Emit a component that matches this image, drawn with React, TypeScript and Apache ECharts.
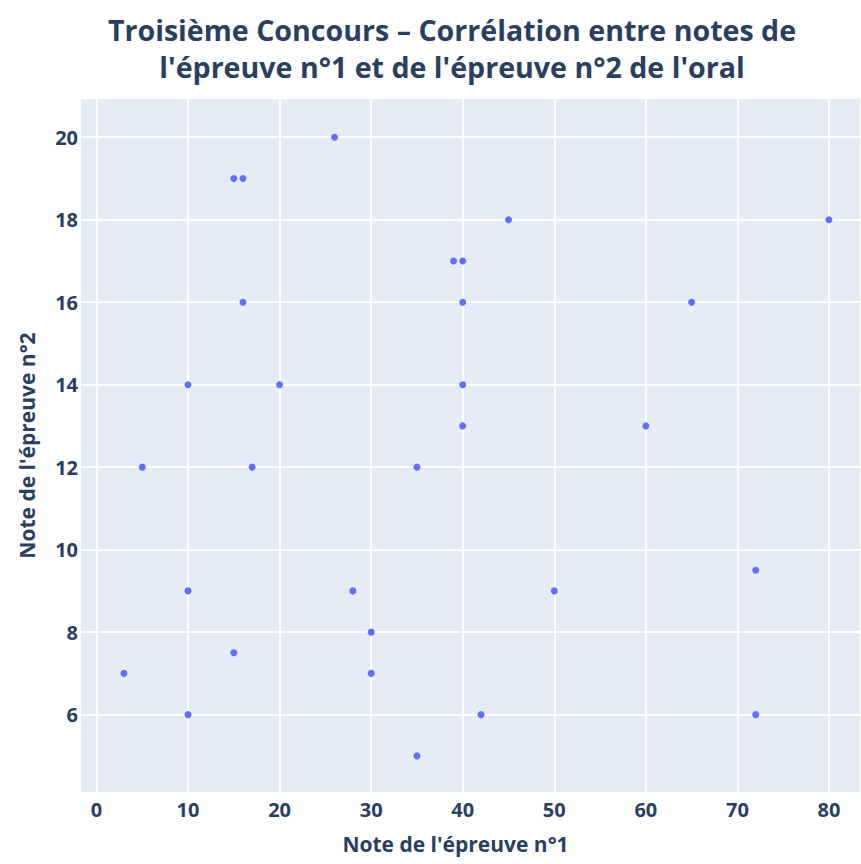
import React, { useEffect, useRef } from "react";
import * as echarts from "echarts";

const epreuve1: number[] = [26, 15, 16, 39, 40, 45, 80, 16, 40, 65, 10, 20, 40, 40, 60, 5, 17, 35, 72, 10, 28, 50, 30, 15, 3, 30, 10, 42, 72, 35];
const epreuve2: number[] = [20, 19, 19, 17, 17, 18, 18, 16, 16, 16, 14, 14, 14, 13, 13, 12, 12, 12, 9.5, 9, 9, 9, 8, 7.5, 7, 7, 6, 6, 6, 5];

const titleText = "Troisième Concours – Corrélation entre notes de\nl'épreuve n°1 et de l'épreuve n°2 de l'oral";
const xTitle = "Note de l'épreuve n°1";
const yTitle = "Note de l'épreuve n°2";

const TEXT = "#2a3f5f";
const FONT = "Open Sans";

export default function App() {
  const ref = useRef<HTMLDivElement>(null);
  useEffect(() => {
    if (!ref.current) return;
    const chart = echarts.init(ref.current, undefined, { renderer: "svg" });
    const data = epreuve1.map((x, i) => [x, epreuve2[i]]);
    chart.setOption({
      animation: false,
      backgroundColor: "#ffffff",
      title: {
        text: titleText,
        left: 447,
        textAlign: "center",
        top: 6,
        textStyle: {
          fontFamily: FONT,
          fontWeight: "bold",
          fontSize: 28.6,
          lineHeight: 37,
          color: TEXT,
        },
      },
      grid: { left: 80, right: 0, top: 98, bottom: 71, containLabel: false, show: true, backgroundColor: "#e5ecf6", borderWidth: 0 },
      xAxis: {
        type: "value",
        min: -1.8,
        max: 83.5,
        splitNumber: 8,
        name: xTitle,
        nameLocation: "middle",
        nameGap: 40,
        nameTextStyle: { fontFamily: FONT, fontWeight: "bold", fontSize: 21, color: TEXT, padding: [0, 30, 0, 0] },
        axisLine: { show: false },
        axisTick: { show: false },
        axisLabel: { showMinLabel: false, showMaxLabel: false, fontFamily: FONT, fontWeight: "bold", fontSize: 20, color: TEXT, margin: 6 },
        splitLine: { show: true, lineStyle: { color: "#ffffff", width: 2 } },
      },
      yAxis: {
        type: "value",
        min: 4.1,
        max: 20.95,
        splitNumber: 8,
        name: yTitle,
        nameLocation: "middle",
        nameGap: 43,
        nameTextStyle: { fontFamily: FONT, fontWeight: "bold", fontSize: 21, color: TEXT },
        axisLine: { show: false },
        axisTick: { show: false },
        axisLabel: { showMinLabel: false, showMaxLabel: false, fontFamily: FONT, fontWeight: "bold", fontSize: 20, color: TEXT, margin: 2 },
        splitLine: { show: true, lineStyle: { color: "#ffffff", width: 2 } },
      },
      series: [
        {
          type: "scatter",
          data,
          symbol: "circle",
          symbolSize: 7,
          itemStyle: { color: "#636efa", opacity: 1 },
        },
      ],
    });
    return () => chart.dispose();
  }, []);
  return <div ref={ref} style={{ position: "fixed", left: 0, top: 0, width: 861, height: 864 }} />;
}
